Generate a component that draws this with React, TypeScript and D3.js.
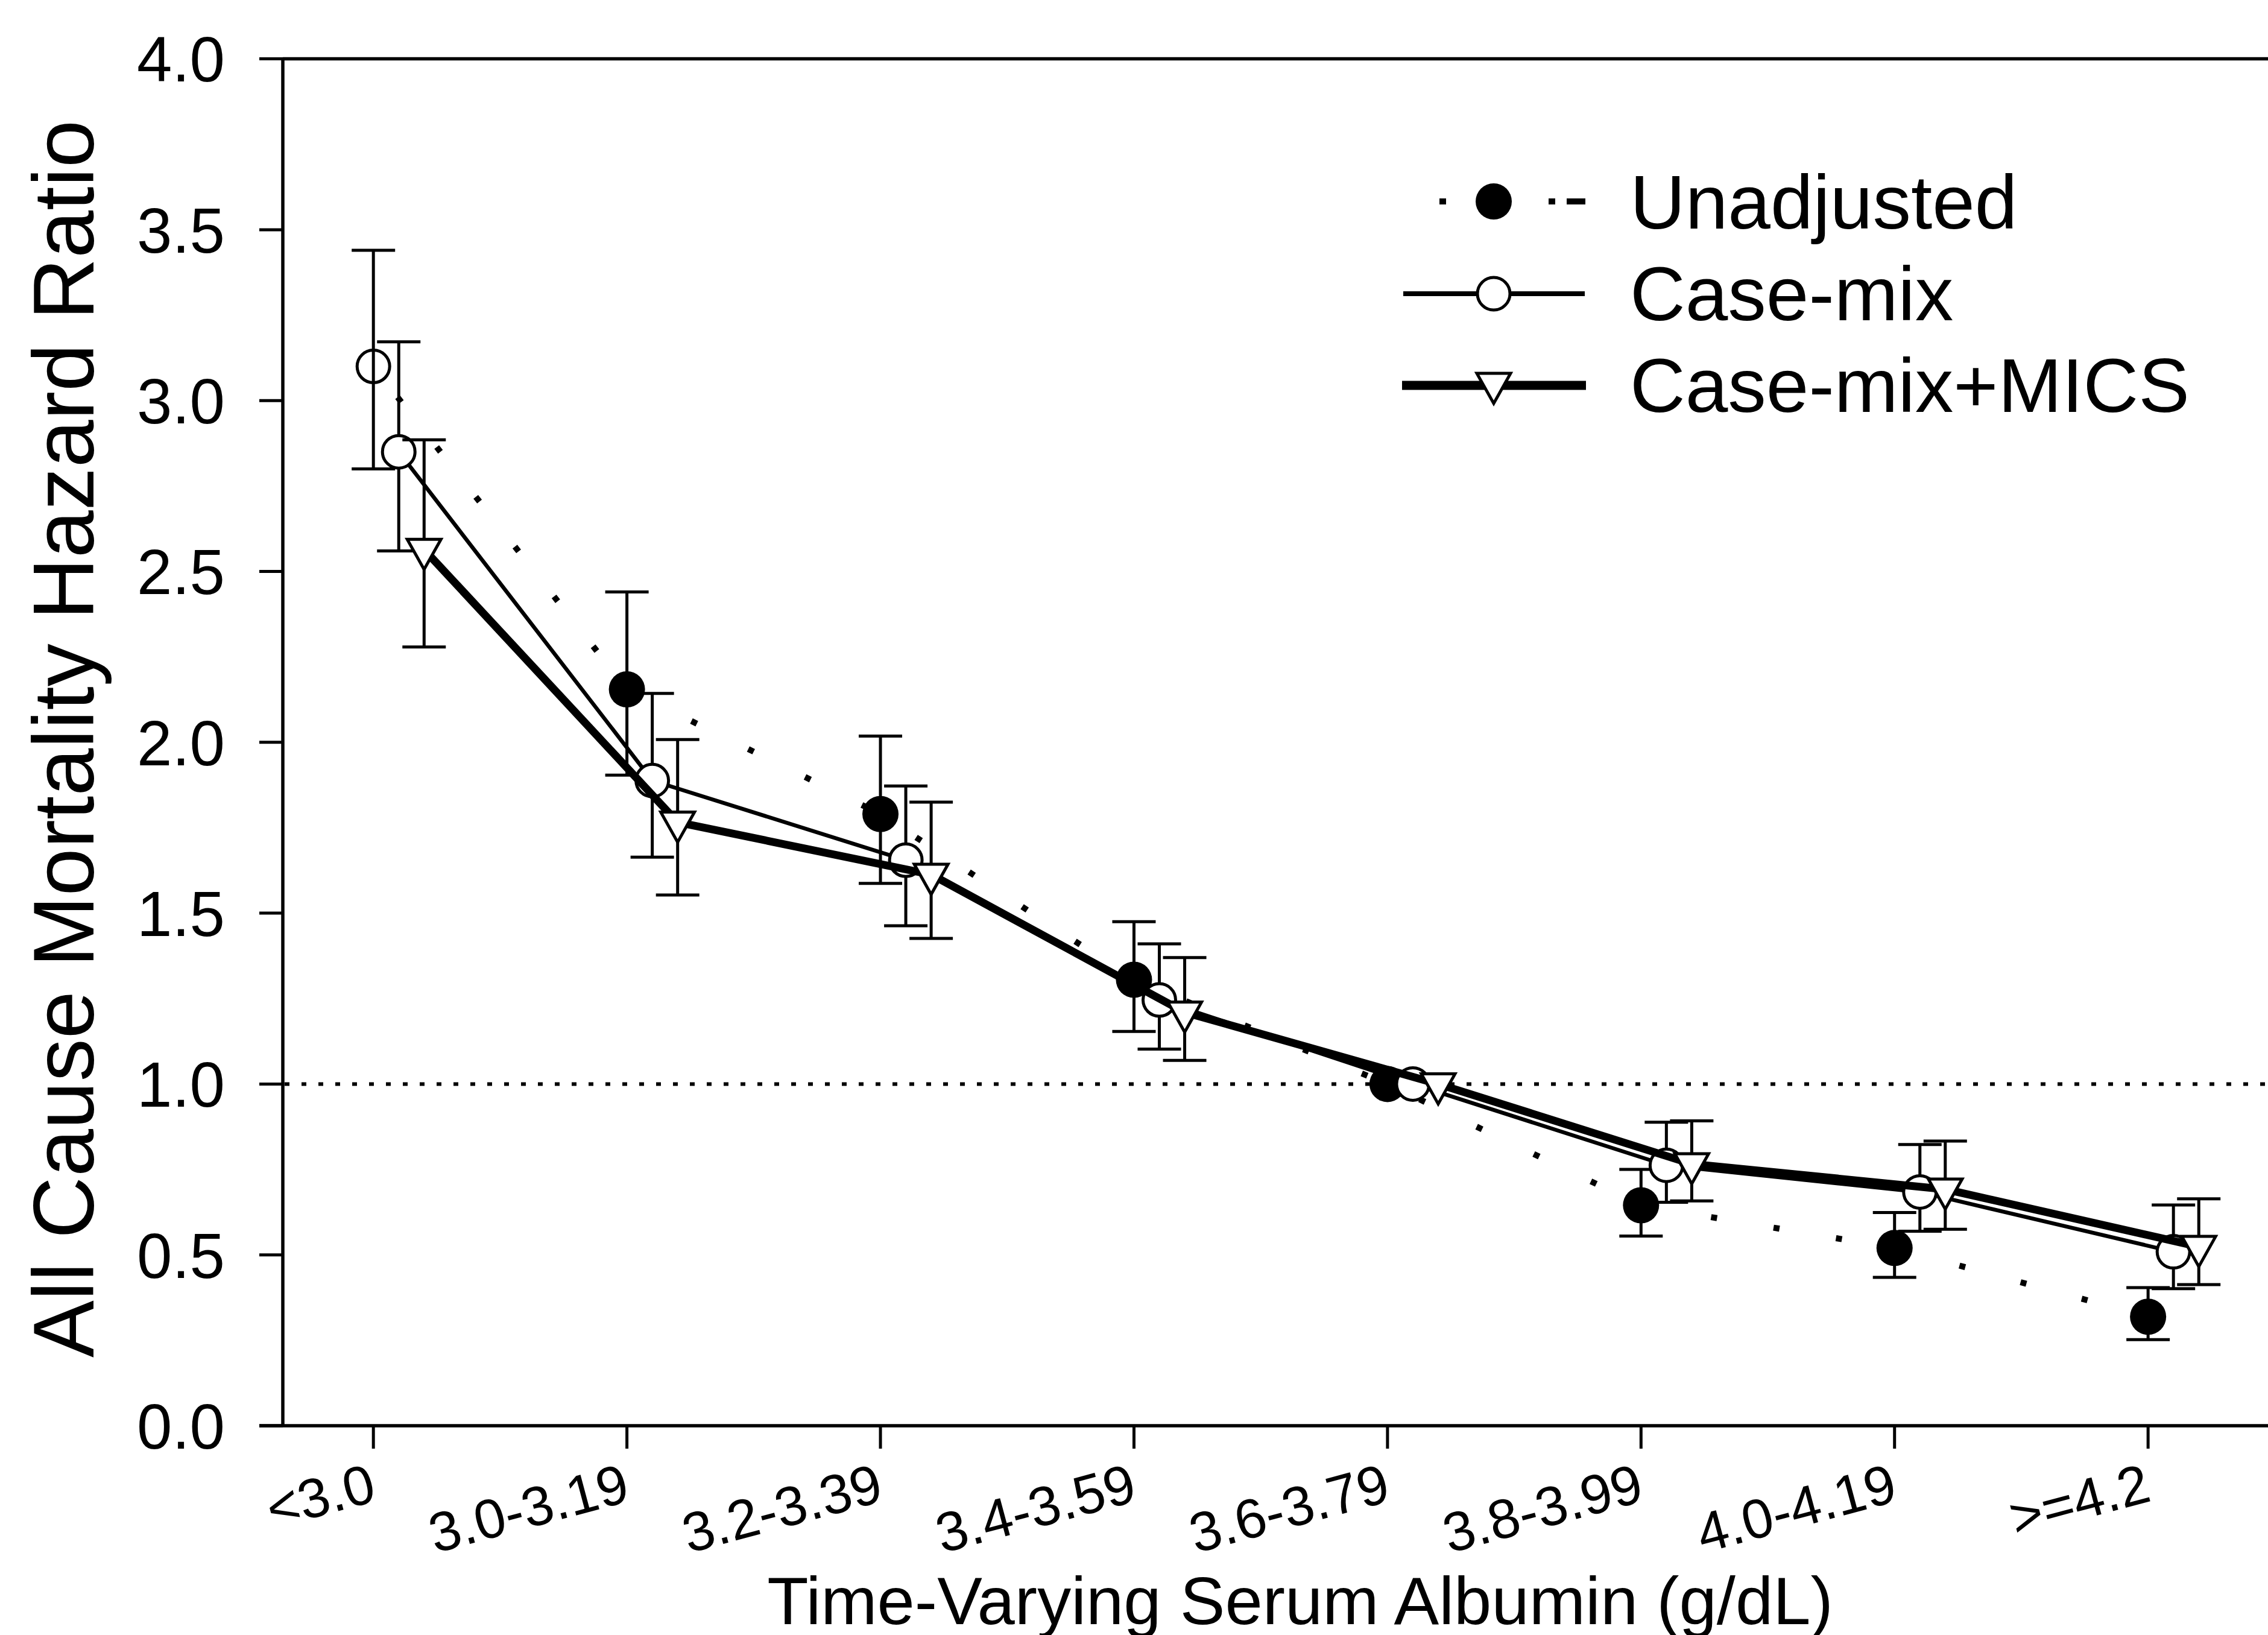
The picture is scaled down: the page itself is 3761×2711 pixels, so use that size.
import * as d3 from "d3";

// albumin categories (x) and hazard ratios
const categories = ["<3.0", "3.0-3.19", "3.2-3.39", "3.4-3.59", "3.6-3.79", "3.8-3.99", "4.0-4.19", ">=4.2"];

const unadjusted = [3.1, 2.155, 1.79, 1.305, 1.0, 0.645, 0.52, 0.319];
const unadjustedLo = [2.8, 1.904, 1.587, 1.154, NaN, 0.555, 0.434, 0.252];
const unadjustedHi = [3.44, 2.44, 2.018, 1.475, NaN, 0.75, 0.624, 0.404];

const caseMix = [2.85, 1.888, 1.655, 1.246, 1.0, 0.762, 0.684, 0.509];
const caseMixLo = [2.56, 1.664, 1.463, 1.102, NaN, 0.654, 0.569, 0.401];
const caseMixHi = [3.172, 2.143, 1.872, 1.41, NaN, 0.888, 0.823, 0.646];

const mics = [2.564, 1.766, 1.613, 1.21, 1.0, 0.766, 0.692, 0.524];
const micsLo = [2.279, 1.553, 1.426, 1.069, NaN, 0.658, 0.575, 0.413];
const micsHi = [2.885, 2.008, 1.825, 1.37, NaN, 0.892, 0.833, 0.664];

const yTicks = [0, 0.5, 1, 1.5, 2, 2.5, 3, 3.5, 4];
const legendLabels = ["Unadjusted", "Case-mix", "Case-mix+MICS"];

const W = 3761;
const H = 2711;
const font = "'Liberation Sans', Arial, Helvetica, sans-serif";

const x = d3.scaleLinear().domain([-0.362, 7.473]).range([467, 3761]);
const y = d3.scaleLinear().domain([0, 4]).range([2364, 97.6]);
const line = d3.line<[number, number]>();

type Kind = "filled" | "open" | "triangle";

function Symbol({ cx, cy, kind, hollow }: { cx: number; cy: number; kind: Kind; hollow?: boolean }) {
  if (kind === "filled") {
    if (hollow) return <circle cx={cx} cy={cy} r={27} fill="none" stroke="#000" strokeWidth={5} />;
    return <circle cx={cx} cy={cy} r={30} fill="#000" />;
  }
  if (kind === "open") return <circle cx={cx} cy={cy} r={27} fill="#fff" stroke="#000" strokeWidth={5} />;
  return (
    <polygon
      points={`${cx - 28},${cy - 17} ${cx + 28},${cy - 17} ${cx},${cy + 33}`}
      fill="#fff"
      stroke="#000"
      strokeWidth={5}
    />
  );
}

export default function App() {
  const series = [
    { values: unadjusted, lo: unadjustedLo, hi: unadjustedHi, off: 0, kind: "filled" as Kind, width: 10, dash: "10 95", dashOffset: 40 },
    { values: caseMix, lo: caseMixLo, hi: caseMixHi, off: 0.1, kind: "open" as Kind, width: 6.5, dash: undefined, dashOffset: 0 },
    { values: mics, lo: micsLo, hi: micsHi, off: 0.2, kind: "triangle" as Kind, width: 13, dash: undefined, dashOffset: 0 },
  ];
  const cap = 36;

  return (
    <svg
      width={W}
      height={H}
      viewBox={`0 0 ${W} ${H}`}
      style={{ position: "absolute", left: 0, top: 0, background: "#fff" }}
      fontFamily={font}
    >
      <rect x={0} y={0} width={W} height={H} fill="#fff" />

      {/* reference line at HR = 1 */}
      <line x1={472} x2={W} y1={y(1)} y2={y(1)} stroke="#000" strokeWidth={6} strokeDasharray="8 20" />

      {series.map((s, si) => {
        const pts = s.values.map((v, i) => [x(i + s.off), y(v)] as [number, number]);
        return (
          <g key={si}>
            <path
              d={line(pts) ?? ""}
              fill="none"
              stroke="#000"
              strokeWidth={s.width}
              strokeDasharray={s.dash}
              strokeDashoffset={s.dashOffset}
              strokeLinejoin="round"
            />
            {s.values.map((v, i) => {
              if (Number.isNaN(s.lo[i])) return null;
              const cx = x(i + s.off);
              return (
                <g key={i} stroke="#000" strokeWidth={5}>
                  <line x1={cx} x2={cx} y1={y(s.lo[i])} y2={y(s.hi[i])} />
                  <line x1={cx - cap} x2={cx + cap} y1={y(s.lo[i])} y2={y(s.lo[i])} />
                  <line x1={cx - cap} x2={cx + cap} y1={y(s.hi[i])} y2={y(s.hi[i])} />
                </g>
              );
            })}
            {s.values.map((v, i) => (
              <Symbol key={i} cx={x(i + s.off)} cy={y(v)} kind={s.kind} hollow={si === 0 && i === 0} />
            ))}
          </g>
        );
      })}

      {/* axes */}
      <g stroke="#000" strokeWidth={5.5}>
        <line x1={469} x2={469} y1={y(4)} y2={y(0)} />
        <line x1={430} x2={W} y1={y(0)} y2={y(0)} />
        <line x1={469} x2={W} y1={y(4)} y2={y(4)} />
        {yTicks.map((t) => (
          <line key={t} x1={430} x2={469} y1={y(t)} y2={y(t)} strokeWidth={5} />
        ))}
        {categories.map((c, i) => (
          <line key={c} x1={x(i)} x2={x(i)} y1={y(0)} y2={y(0) + 38} strokeWidth={5} />
        ))}
      </g>

      {yTicks.map((t) => (
        <text key={t} x={373} y={y(t)} dy="0.36em" textAnchor="end" fontSize={105} fill="#000">
          {d3.format(".1f")(t)}
        </text>
      ))}

      {categories.map((c, i) => (
        <text
          key={c}
          transform={`translate(${x(i) + 8},2488) rotate(-15)`}
          textAnchor="end"
          fontSize={92}
          fill="#000"
        >
          {c}
        </text>
      ))}

      <text x={2156} y={2693} textAnchor="middle" fontSize={112} fill="#000">
        Time-Varying Serum Albumin (g/dL)
      </text>
      <text transform="translate(155,1225) rotate(-90)" textAnchor="middle" fontSize={142} fill="#000">
        All Cause Mortality Hazard Ratio
      </text>

      {/* legend */}
      <g>
        <line x1={2387} x2={2630} y1={334} y2={334} stroke="#000" strokeWidth={10} strokeDasharray="11 170 11 19 31 9999" />
        <Symbol cx={2477} cy={334} kind="filled" />
        <line x1={2327} x2={2628} y1={487} y2={487} stroke="#000" strokeWidth={8} />
        <Symbol cx={2477} cy={487} kind="open" />
        <line x1={2325} x2={2630} y1={639} y2={639} stroke="#000" strokeWidth={15} />
        <Symbol cx={2477} cy={636} kind="triangle" />
        {legendLabels.map((l, i) => (
          <text key={l} x={2703} y={379 + i * 152} fontSize={127} fill="#000">
            {l}
          </text>
        ))}
      </g>
    </svg>
  );
}
